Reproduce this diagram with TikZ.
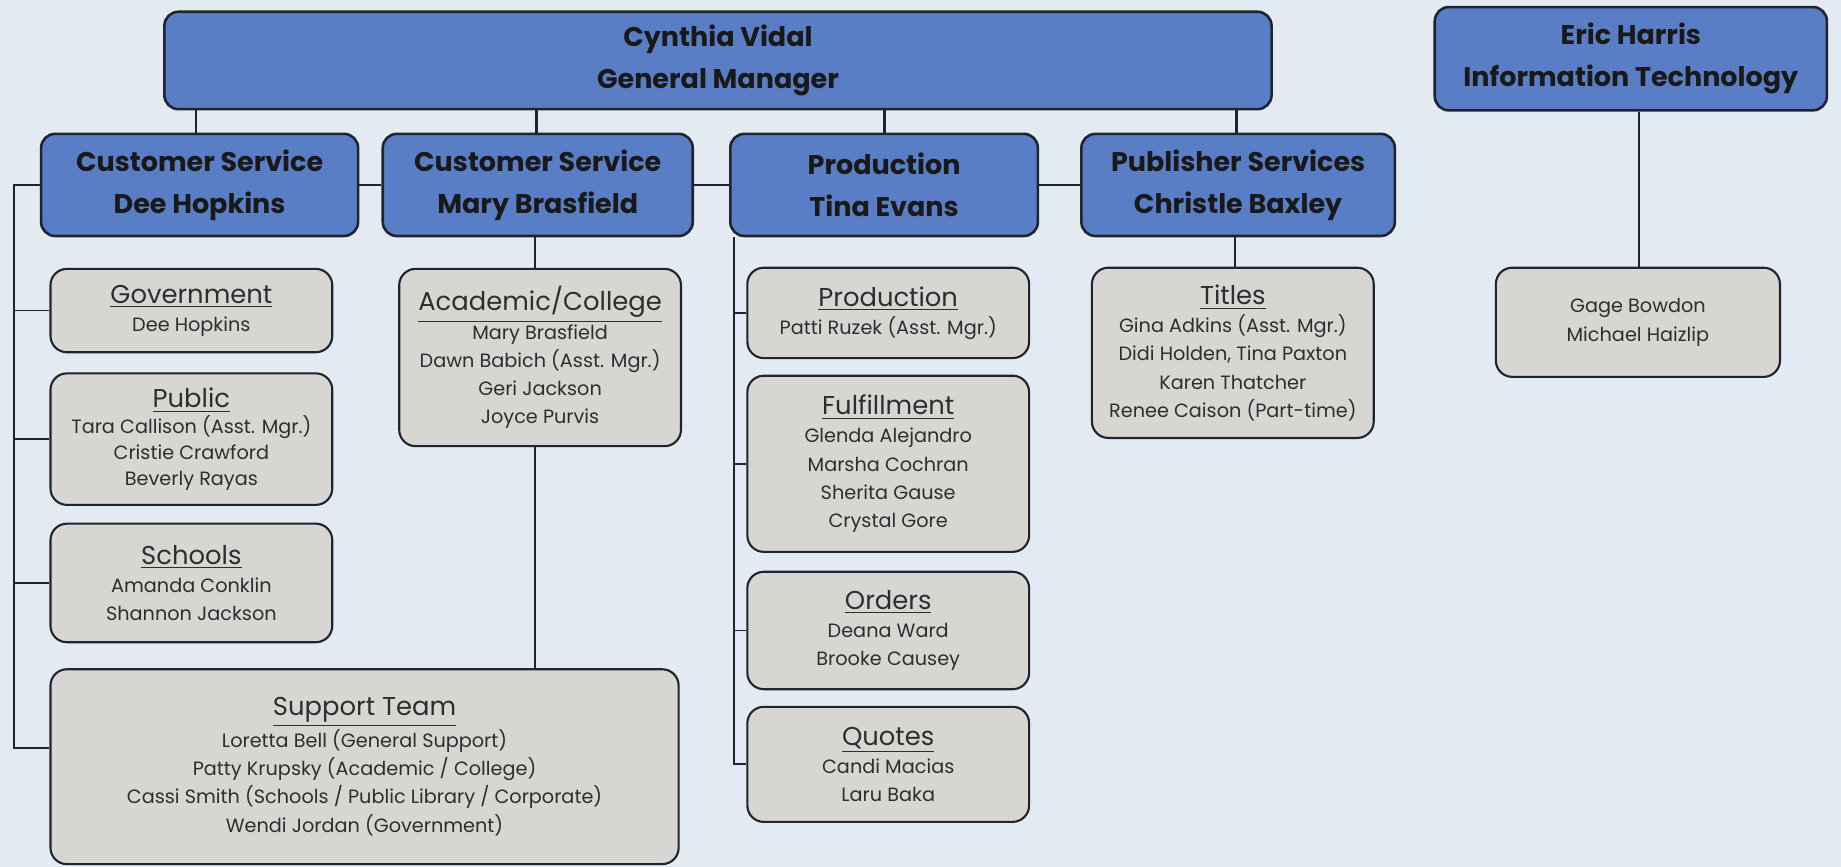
\documentclass[tikz,border=0pt]{standalone}
\usepackage{fontspec}
\setmainfont{Poppins}
\definecolor{bgc}{HTML}{E3EAF2}
\definecolor{boxblue}{HTML}{5A7EC5}
\definecolor{boxgray}{HTML}{D8D6D3}
\definecolor{lnc}{HTML}{1E2430}
\definecolor{txg}{HTML}{2E2E2E}
\newcommand{\grptitle}[1]{{\fontsize{11}{13}\selectfont\underline{#1}}}
\tikzset{
  sz/.style 2 args={minimum width=#1*0.5pt, minimum height=#2*0.5pt},
  bluebox/.style={draw=lnc, line width=1.1pt, fill=boxblue, rounded corners=6pt,
    inner sep=0pt, align=center, text=black!90,
    font={\fontsize{11.5}{18}\selectfont\bfseries}},
  graybox/.style={draw=lnc, line width=0.9pt, fill=boxgray, rounded corners=7pt,
    inner sep=0pt, align=center, text=txg,
    font={\fontsize{8.2}{12}\selectfont}},
  conn/.style={draw=lnc, line width=1.2pt},
  thinconn/.style={draw=lnc, line width=0.8pt}
}
\begin{document}
\begin{tikzpicture}[x=0.5pt,y=-0.5pt]
\useasboundingbox[fill=bgc] (0,0) rectangle (1568,738);
% top level
\node[bluebox, sz={943}{83}] (gm) at (611.5,51.5) {Cynthia Vidal\\General Manager};
\node[bluebox, sz={334}{88}] (it) at (1389,50) {Eric Harris\\Information Technology};
% second level
\node[bluebox, sz={270}{87}] (cs1) at (170,157.5) {Customer Service\\Dee Hopkins};
\node[bluebox, sz={264}{87}] (cs2) at (458,157.5) {Customer Service\\Mary Brasfield};
\node[bluebox, sz={262}{87}] (pr) at (753,157.5) {Production\\Tina Evans};
\node[bluebox, sz={267}{87}] (ps) at (1054.5,157.5) {Publisher Services\\Christle Baxley};
% left column
\node[graybox, sz={240}{71}] (gov) at (163,264.5) {\grptitle{Government}\\Dee Hopkins};
\node[graybox, sz={240}{112}, font={\fontsize{8.2}{11}\selectfont}] (pub) at (163,374) {\grptitle{Public}\\Tara Callison (Asst. Mgr.)\\Cristie Crawford\\Beverly Rayas};
\node[graybox, sz={240}{101}] (sch) at (163,496.5) {\grptitle{Schools}\\Amanda Conklin\\Shannon Jackson};
\node[graybox, sz={535}{166}] (sup) at (310.5,653) {\grptitle{Support Team}\\Loretta Bell (General Support)\\Patty Krupsky (Academic / College)\\Cassi Smith (Schools / Public Library / Corporate)\\Wendi Jordan (Government)};
% middle column
\node[graybox, sz={240}{151}] (aca) at (460,304.5) {\grptitle{Academic/College}\\Mary Brasfield\\Dawn Babich (Asst. Mgr.)\\Geri Jackson\\Joyce Purvis};
% production column
\node[graybox, sz={240}{77}] (prd) at (756.5,266.5) {\grptitle{Production}\\Patti Ruzek (Asst. Mgr.)};
\node[graybox, sz={240}{150}] (ful) at (756.5,395) {\grptitle{Fulfillment}\\Glenda Alejandro\\Marsha Cochran\\Sherita Gause\\Crystal Gore};
\node[graybox, sz={240}{100}] (ord) at (756.5,537) {\grptitle{Orders}\\Deana Ward\\Brooke Causey};
\node[graybox, sz={240}{98}] (quo) at (756.5,651) {\grptitle{Quotes}\\Candi Macias\\Laru Baka};
% publisher column
\node[graybox, sz={240}{145}] (tit) at (1050,300.5) {\grptitle{Titles}\\Gina Adkins (Asst. Mgr.)\\Didi Holden, Tina Paxton\\Karen Thatcher\\Renee Caison (Part-time)};
% IT
\node[graybox, sz={242}{93}] (itg) at (1395,274.5) {Gage Bowdon\\Michael Haizlip};
% connectors top -> second level
\draw[conn] (gm.south -| 167,0) -- (cs1.north -| 167,0);
\draw[conn] (gm.south -| 457,0) -- (cs2.north -| 457,0);
\draw[conn] (gm.south -| 753,0) -- (pr.north -| 753,0);
\draw[conn] (gm.south -| 1053,0) -- (ps.north -| 1053,0);
\draw[conn] (cs1.east) -- (cs2.west);
\draw[conn] (cs2.east) -- (pr.west);
\draw[conn] (pr.east) -- (ps.west);
% left bracket
\coordinate (lb) at (12,157.5);
\coordinate (lsup) at (sup.west |- 0,637);
\draw[thinconn] (cs1.west) -- (lb) |- (lsup);
\draw[thinconn] (gov.west) -- (gov.west -| lb);
\draw[thinconn] (pub.west) -- (pub.west -| lb);
\draw[thinconn] (sch.west) -- (sch.west -| lb);
% middle
\draw[thinconn] (cs2.south -| 456,0) -- (aca.north -| 456,0);
\draw[thinconn] (aca.south -| 456,0) -- (sup.north -| 456,0);
% production
\coordinate (pb) at (625,0);
\draw[thinconn] (pr.south -| pb) |- (quo.west);
\draw[thinconn] (prd.west) -- (prd.west -| pb);
\draw[thinconn] (ful.west) -- (ful.west -| pb);
\draw[thinconn] (ord.west) -- (ord.west -| pb);
% publisher
\draw[thinconn] (ps.south -| 1052,0) -- (tit.north -| 1052,0);
% IT
\draw[thinconn] (it.south -| 1396,0) -- (itg.north -| 1396,0);
\end{tikzpicture}
\end{document}
